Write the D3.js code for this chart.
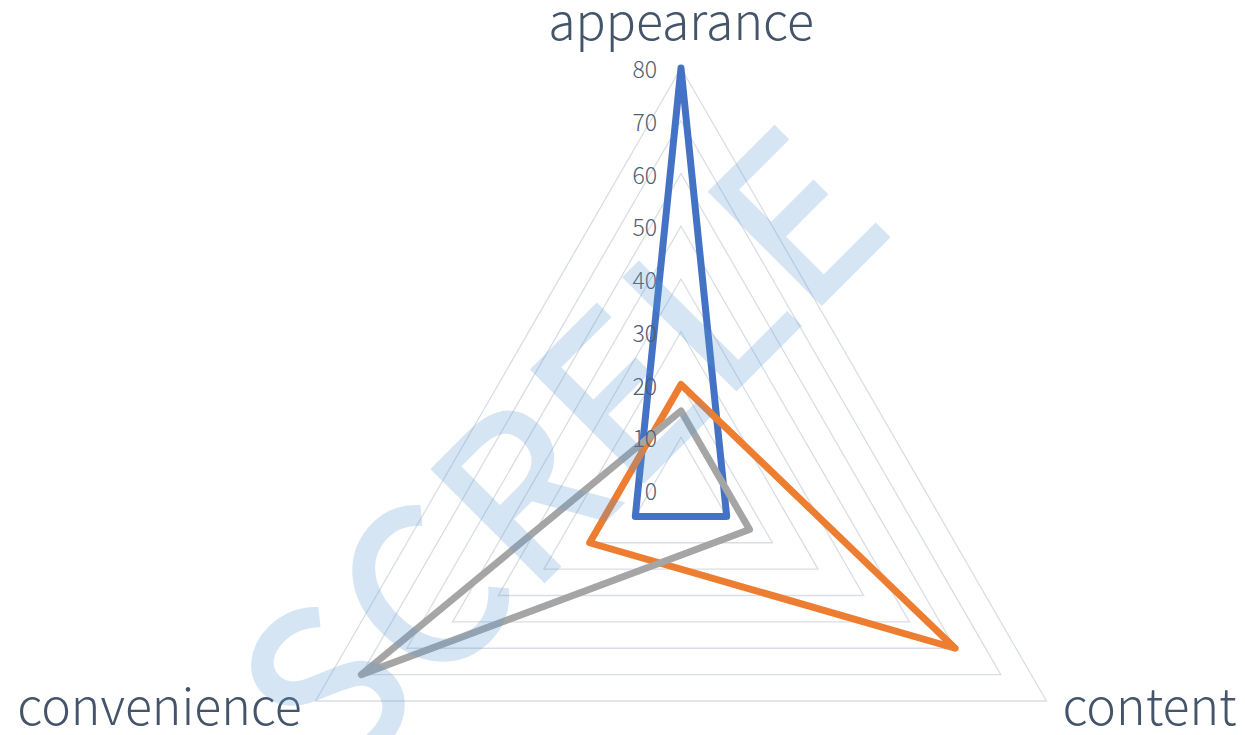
<!DOCTYPE html>
<html>
<head>
<meta charset="utf-8">
<script src="https://cdn.jsdelivr.net/npm/d3@7"></script>
<style>
  body { margin: 0; background: #fff; }
  svg { display: block; }
</style>
</head>
<body>
<svg id="chart" width="1245" height="735"></svg>
<script>
// radar chart data
var categories = ['appearance', 'content', 'convenience'];
var series_names = ['Series1', 'Series2', 'Series3'];
var series1 = [80, 10, 10];
var series2 = [20, 60, 20];
var series3 = [15, 15, 70];
var tick_values = [0, 10, 20, 30, 40, 50, 60, 70, 80];
var watermark = 'SCRELE';

var colors = ['#4472C4', '#ED7D31', '#A5A5A5'];
var all_series = [series1, series2, series3];

var svg = d3.select('#chart');
var cx = 681, cy = 490;

var r = d3.scaleLinear()
	.domain([0, 80])
	.range([0, 422]);

var angle = d3.scalePoint()
	.domain(d3.range(categories.length + 1))
	.range([0, 2 * Math.PI]);

var radial = d3.lineRadial()
	.angle(function(d, i) { return angle(i); })
	.radius(function(d) { return r(d); })
	.curve(d3.curveLinearClosed);

var g = svg.append('g')
	.attr('transform', 'translate(' + cx + ',' + cy + ')');

// grid triangles
g.append('g')
	.attr('id', 'grid')
	.selectAll('path')
	.data(tick_values.filter(function(t) { return t > 0; }))
	.enter()
	.append('path')
		.attr('d', function(t) { return radial(categories.map(function() { return t; })); })
		.attr('fill', 'none')
		.attr('stroke', '#D9DDE4')
		.attr('stroke-width', 1.3);

// series
g.append('g')
	.attr('id', 'series')
	.selectAll('path')
	.data(all_series)
	.enter()
	.append('path')
		.attr('d', function(d) { return radial(d); })
		.attr('fill', 'none')
		.attr('stroke', function(d, i) { return colors[i]; })
		.attr('stroke-width', 7)
		.attr('stroke-linejoin', 'round');

// value axis labels
g.append('g')
	.attr('id', 'ticks')
	.selectAll('text')
	.data(tick_values)
	.enter()
	.append('text')
		.attr('x', -24)
		.attr('y', function(t) { return -r(t); })
		.attr('text-anchor', 'end')
		.attr('dominant-baseline', 'central')
		.attr('font-family', 'Noto Sans CJK SC, Noto Sans, sans-serif')
		.attr('font-weight', 300)
		.attr('font-size', 23)
		.attr('fill', '#535d71')
		.text(function(t) { return t; });

// category labels (baseline placed relative to the outer vertex)
function label_pos(i)
{
	var a = angle(i);
	var rr = r(80);
	var x = rr * Math.sin(a), y = -rr * Math.cos(a);
	if(i == 0) return { x: x, y: y - 28, anchor: 'middle' };
	if(x > 0) return { x: x + 16, y: y + 24, anchor: 'start' };
	return { x: x - 14, y: y + 24, anchor: 'end' };
}

g.append('g')
	.attr('id', 'categories')
	.selectAll('text')
	.data(categories)
	.enter()
	.append('text')
		.attr('x', function(d, i) { return label_pos(i).x; })
		.attr('y', function(d, i) { return label_pos(i).y; })
		.attr('text-anchor', function(d, i) { return label_pos(i).anchor; })
		.attr('font-family', 'Noto Sans CJK SC, Noto Sans, sans-serif')
		.attr('font-weight', 300)
		.attr('font-size', 50)
		.attr('fill', '#44546A')
		.text(function(d) { return d; });

// watermark on top
svg.append('text')
	.attr('transform', 'translate(336,789) rotate(-45)')
	.attr('font-family', 'Noto Sans CJK SC, Noto Sans, sans-serif')
	.attr('font-size', 215)
	.attr('letter-spacing', 4)
	.attr('fill', '#5B9BD5')
	.attr('stroke', '#5B9BD5')
	.attr('stroke-width', 4)
	.attr('opacity', 0.25)
	.text(watermark);
</script>
</body>
</html>
